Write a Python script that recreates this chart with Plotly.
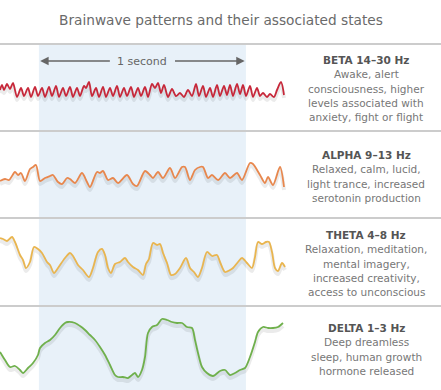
import plotly.graph_objects as go

# ---------------- data ----------------
TITLE = "Brainwave patterns and their associated states"
FS = 207.0                      # samples per second of the traces
WINDOW_START_S = 0.188          # start of the marked 1-second window
WINDOW_LEN_S = 1.0
WINDOW_LABEL = "1 second"

BANDS = ["BETA 14–30 Hz", "ALPHA 9–13 Hz", "THETA 4–8 Hz", "DELTA 1–3 Hz"]
DESCRIPTIONS = [
    ["Awake, alert", "consciousness, higher", "levels associated with", "anxiety, fight or flight"],
    ["Relaxed, calm, lucid,", "light trance, increased", "serotonin production"],
    ["Relaxation, meditation,", "mental imagery,", "increased creativity,", "access to unconscious"],
    ["Deep dreamless", "sleep, human growth", "hormone released"],
]

beta_n = [0, 2, 4, 7, 10, 13, 17, 21, 24, 28, 31, 35, 38, 42, 45, 49, 52, 56, 59, 63, 66, 70, 73, 77, 80, 84,
          86, 89, 92, 96, 99, 103, 106, 110, 113, 117, 120, 124, 127, 131, 134, 138, 141, 145, 148, 152, 155,
          158, 161, 164, 168, 172, 176, 180, 184, 188, 192, 196, 199, 203, 206, 210, 213, 217, 220, 224, 227,
          230, 233, 237, 240, 243, 246, 250, 253, 257, 260, 263, 267, 270, 274, 277, 281, 284]
beta_uv = [1, 6, 1, 7, 2, 8, -6, 3, -5, 3, -6, 4, -5, 3, -6, 4, -5, 5, -6, 3, -5, 4, -6, 3, -5, 5,
           3, 9, -5, 3, -6, 4, -6, 3, -5, 5, -6, 3, -5, 4, -6, 3, -5, 4, -6, 7, 3,
           8, -2, 6, -6, 2, -5, -2, -6, 1, -5, 7, -5, 5, -6, 3, -6, 6, -5, 5, -4,
           6, -5, 7, -3, 6, -5, 5, -6, 3, -5, -2, -6, -3, -6, 1, 9, -4]

alpha_n = [0, 5, 9, 15, 18, 21, 25, 30, 33, 36, 40, 45, 50, 53, 58, 62, 67, 70, 75, 82, 87, 90, 97, 100,
           103, 108, 113, 118, 127, 133, 137, 145, 150, 153, 158, 163, 170, 175, 182, 185, 190, 195, 200,
           203, 208, 212, 218, 225, 230, 237, 242, 250, 253, 260, 265, 268, 273, 280, 284]
alpha_uv = [-3, -1, -2, 6, 3, 5, -3, 9, 11, 13, -3, 0, 2, 3, -4, -6, 0, -1, -5, 5, -4, -9, 6, 5,
            7, -2, 0, -5, 3, -6, -8, 7, 3, 0, 6, 0, 10, 0, 11, 11, -2, 8, 11,
            11, 0, 3, -2, 5, 0, 5, -2, 15, 14, 3, -5, 1, -7, 11, -9]

theta_n = [0, 3, 7, 12, 15, 20, 23, 26, 30, 34, 38, 42, 47, 50, 54, 58, 65, 70, 73, 78, 83, 89, 93, 98,
           102, 105, 108, 111, 115, 120, 125, 128, 133, 138, 143, 146, 149, 153, 157, 160, 163, 167, 171,
           175, 180, 186, 190, 194, 198, 202, 207, 212, 217, 220, 225, 230, 233, 238, 242, 247, 252, 255,
           258, 262, 266, 269, 272, 275, 278, 282, 285]
theta_uv = [20, 19, 17, 21, 16, 3, -2, -10, -4, 11, 9, 5, -4, -7, -15, -10, 0, 5, 2, -7, -12, -19, -10, 6,
            9, 3, -10, -15, -6, -4, 0, -4, -9, -12, -17, -6, -1, 15, 13, 14, 5, -5, -17,
            -16, -10, 0, -10, -14, -19, -10, 6, 2, 3, -4, -14, -12, -10, -4, 0, -5, -10, 1,
            16, 14, 16, 16, 6, -10, -13, -5, -9]

delta_n = [0, 5, 10, 15, 20, 23, 28, 33, 38, 40, 45, 50, 55, 60, 65, 68, 75, 80, 85, 90, 95, 100, 105, 110,
           115, 118, 123, 128, 132, 135, 138, 142, 145, 148, 152, 157, 162, 167, 172, 177, 182, 187, 192,
           195, 198, 202, 207, 213, 220, 225, 230, 235, 240, 245, 250, 255, 258, 263, 268, 273, 278, 283]
delta_uv = [-4, -12, -19, -18, -22, -25, -20, -15, -7, 0, 5, 8, 13, 20, 25, 26, 25, 22, 18, 13, 8, 1, -7, -17,
            -27, -29, -29, -30, -27, -25, -29, -22, -9, 15, 21, 23, 29, 28, 26, 25, 25, 21, 20,
            8, -5, -19, -25, -28, -23, -22, -27, -25, -22, -20, -9, 6, 16, 21, 20, 20, 21, 25]

SAMPLES = [beta_n, alpha_n, theta_n, delta_n]
VALUES = [beta_uv, alpha_uv, theta_uv, delta_uv]
COLORS = ["#c7283a", "#e8874d", "#e9b54f", "#6fb04c"]

# ---------------- layout helpers ----------------
W, H = 441, 390
def py(px):
    return 1 - px / H

ROW_EDGES_PX = [44, 131, 218, 306, 390]
BASELINE_PX = [91, 178, 258, 348]
HEADER_PX = [60, 155, 235, 328]
LINE_STEP_PX = 14.3
TEXT_X = 366 / W

FONT = "DejaVu Sans, Verdana, sans-serif"

fig = go.Figure()
layout_axes = {}
for i in range(4):
    yname = "y" if i == 0 else f"y{i+1}"
    t = [n / FS for n in SAMPLES[i]]
    shadow = [v - 3 for v in VALUES[i]]
    fig.add_trace(go.Scatter(x=t, y=shadow, mode="lines", yaxis=yname, hoverinfo="skip",
                             line=dict(color="rgba(0,0,0,0.08)", width=4, shape="spline", smoothing=0.8),
                             showlegend=False))
    fig.add_trace(go.Scatter(x=t, y=VALUES[i], mode="lines", yaxis=yname, name=BANDS[i],
                             line=dict(color=COLORS[i], width=1.8, shape="spline", smoothing=0.8),
                             showlegend=False))
    top, bot = ROW_EDGES_PX[i], ROW_EDGES_PX[i + 1]
    base = BASELINE_PX[i]
    key = "yaxis" if i == 0 else f"yaxis{i+1}"
    layout_axes[key] = dict(domain=[py(bot), py(top)], range=[-(bot - base), base - top],
                            visible=False, fixedrange=True, anchor="x")

annotations = [dict(text=TITLE, x=0.5, y=py(20), xref="paper", yref="paper", showarrow=False,
                    font=dict(family=FONT, size=13.7, color="#6a6a6a"), xanchor="center", yanchor="middle")]
for i in range(4):
    annotations.append(dict(text="<b>" + BANDS[i] + "</b>", x=TEXT_X, y=py(HEADER_PX[i]), xref="paper",
                            yref="paper", showarrow=False, xanchor="center", yanchor="middle",
                            font=dict(family=FONT, size=10.5, color="#555555")))
    for j, line in enumerate(DESCRIPTIONS[i]):
        annotations.append(dict(text=line, x=TEXT_X, y=py(HEADER_PX[i] + (j + 1) * LINE_STEP_PX),
                                xref="paper", yref="paper", showarrow=False, xanchor="center",
                                yanchor="middle", font=dict(family=FONT, size=10.5, color="#777777")))

# "1 second" marker (in beta row coordinates: 30 units above baseline)
arrow_y = BASELINE_PX[0] - 61
centre = WINDOW_START_S + WINDOW_LEN_S / 2
annotations.append(dict(text=WINDOW_LABEL, x=centre, y=arrow_y, xref="x", yref="y", showarrow=False,
                        font=dict(family=FONT, size=11, color="#666666"), xanchor="center", yanchor="middle"))
for tip, tail in [(WINDOW_START_S + 0.006, centre - 0.15), (WINDOW_START_S + WINDOW_LEN_S - 0.006, centre + 0.15)]:
    annotations.append(dict(text="", x=tip, y=arrow_y, xref="x", yref="y", ax=tail, ay=arrow_y,
                            axref="x", ayref="y", showarrow=True, arrowhead=2, arrowsize=1.3,
                            arrowwidth=1.3, arrowcolor="#666666"))

shapes = [dict(type="rect", xref="x", yref="paper", x0=WINDOW_START_S, x1=WINDOW_START_S + WINDOW_LEN_S,
               y0=0, y1=py(ROW_EDGES_PX[0]), fillcolor="#e8f1f9", line=dict(width=0), layer="below")]
for px in ROW_EDGES_PX[:4]:
    shapes.append(dict(type="line", xref="paper", yref="paper", x0=0, x1=1, y0=py(px), y1=py(px),
                       line=dict(color="#cccccc", width=2), layer="above"))

fig.update_layout(
    width=W, height=H, margin=dict(l=0, r=0, t=0, b=0),
    paper_bgcolor="white", plot_bgcolor="rgba(0,0,0,0)",
    xaxis=dict(range=[0, W / FS], visible=False, fixedrange=True),
    annotations=annotations, shapes=shapes, showlegend=False,
    **layout_axes,
)

fig.write_html("out.html", config={"displayModeBar": False},
               post_script="document.body.style.margin='0';document.body.style.overflow='hidden';")
